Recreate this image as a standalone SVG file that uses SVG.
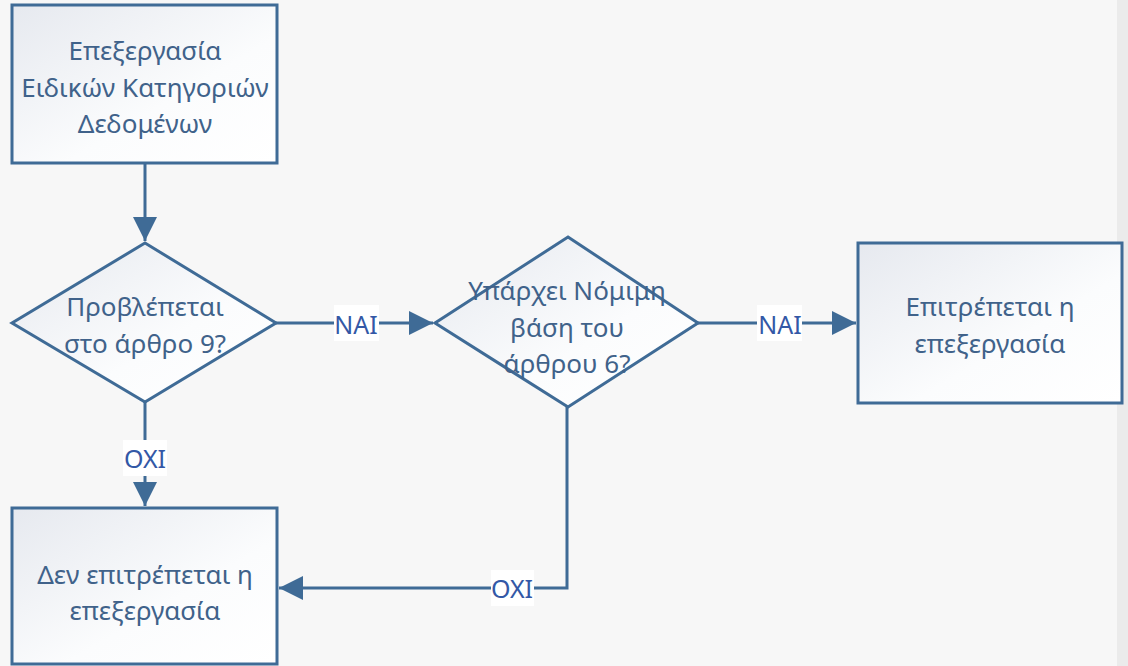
<svg xmlns="http://www.w3.org/2000/svg" width="1128" height="666" viewBox="0 0 1128 666">
<defs>
<linearGradient id="g" x1="0" y1="0" x2="1" y2="1">
<stop offset="0" stop-color="#e6e9ef"/>
<stop offset="0.6" stop-color="#fbfcfd"/>
<stop offset="1" stop-color="#ffffff"/>
</linearGradient>
<marker id="ah" viewBox="0 0 10 10" refX="10" refY="5" markerWidth="26" markerHeight="24" markerUnits="userSpaceOnUse" orient="auto">
<path d="M0,0 L10,5 L0,10 z" fill="#3f6b96"/>
</marker>
<style>
.n{fill:url(#g);stroke:#3f6b96;stroke-width:3}
.t{font-family:"Noto Sans","Open Sans",sans-serif;font-size:26px;fill:#40628a;text-anchor:middle;dominant-baseline:central}
.c{fill:none;stroke:#3f6b96;stroke-width:3}
.lb{fill:#ffffff}
.l{font-family:"Noto Sans","Open Sans",sans-serif;font-size:25px;fill:#3358a6;text-anchor:middle;dominant-baseline:central}
</style>
</defs>
<rect width="1128" height="666" fill="#f7f7f7"/>
<rect x="1117" y="0" width="11" height="666" fill="#ebebeb"/>
<g id="connectors">
<path class="c" d="M145,164 V241" marker-end="url(#ah)"/>
<path class="c" d="M276,323 H433" marker-end="url(#ah)"/>
<path class="c" d="M698,323 H856" marker-end="url(#ah)"/>
<path class="c" d="M145,402 V506" marker-end="url(#ah)"/>
<path class="c" d="M567,407 V588 H279" marker-end="url(#ah)"/>
<rect class="lb" x="334" y="305" width="45" height="36"/>
<text class="l" x="356" y="324">NAI</text>
<rect class="lb" x="757" y="305" width="45" height="36"/>
<text class="l" x="780" y="324">NAI</text>
<rect class="lb" x="123" y="440" width="44" height="36"/>
<text class="l" x="145" y="458">OXI</text>
<rect class="lb" x="491" y="570" width="43" height="36"/>
<text class="l" x="512" y="588">OXI</text>
</g>
<g id="start">
<rect class="n" x="12" y="5" width="265" height="158"/>
<text class="t" x="145" y="50">Επεξεργασία</text>
<text class="t" x="145" y="87">Ειδικών Κατηγοριών</text>
<text class="t" x="145" y="123">Δεδομένων</text>
</g>
<g id="decision1">
<polygon class="n" points="145,243 276,323 145,402 12,323"/>
<text class="t" x="145" y="306">Προβλέπεται</text>
<text class="t" x="145" y="343">στο άρθρο 9?</text>
</g>
<g id="decision2">
<polygon class="n" points="568,237 698,323 568,407 435,323"/>
<text class="t" x="567" y="290">Υπάρχει Νόμιμη</text>
<text class="t" x="567" y="327">βάση του</text>
<text class="t" x="567" y="363">άρθρου 6?</text>
</g>
<g id="allowed">
<rect class="n" x="858" y="243" width="264" height="160"/>
<text class="t" x="990" y="306">Επιτρέπεται η</text>
<text class="t" x="990" y="343">επεξεργασία</text>
</g>
<g id="denied">
<rect class="n" x="12" y="508" width="265" height="156"/>
<text class="t" x="145" y="574">Δεν επιτρέπεται η</text>
<text class="t" x="145" y="610">επεξεργασία</text>
</g>
</svg>
